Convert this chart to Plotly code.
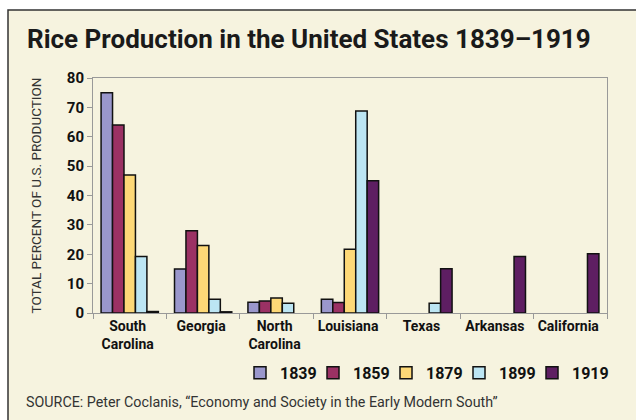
import plotly.graph_objects as go

states = ["South<br>Carolina", "Georgia", "North<br>Carolina", "Louisiana", "Texas", "Arkansas", "California"]
years = ["1839", "1859", "1879", "1899", "1919"]
v1839 = [75, 15, 3.7, 4.7, None, None, None]
v1859 = [64, 28, 4.1, 3.6, None, None, None]
v1879 = [47, 23, 5.1, 21.7, None, None, None]
v1899 = [19.2, 4.7, 3.3, 68.8, 3.3, None, None]
v1919 = [0.5, 0.4, None, 45, 15.1, 19.2, 20.2]
series = [v1839, v1859, v1879, v1899, v1919]
colors = ["#9a97cc", "#9b3164", "#fdd877", "#bce5f3", "#5e1e62"]

FONT = "Roboto, Open Sans, sans-serif"

fig = go.Figure()
for i, (y, vals, c) in enumerate(zip(years, series, colors)):
    fig.add_trace(go.Bar(
        x=states, y=vals, name=y,
        marker=dict(color=c, line=dict(color="#111111", width=1.5)),
        legendwidth=28 if i < len(years) - 1 else 45,
    ))

fig.update_layout(
    width=636, height=420,
    margin=dict(l=93, r=29, t=78, b=107),
    paper_bgcolor="#ffffff",
    plot_bgcolor="#cccaa5",
    barmode="group", bargap=0.22, bargroupgap=0,
    showlegend=True,
    legend=dict(
        orientation="h", x=0.286, xanchor="left", y=-0.255, yanchor="middle",
        font=dict(family=FONT, size=16, color="#111111", weight="bold"),
        bgcolor="rgba(0,0,0,0)", itemwidth=30, traceorder="normal",
    ),
    shapes=[dict(
        type="rect", xref="paper", yref="paper",
        x0=(8 - 93) / 514, x1=1.2, y0=-1.0, y1=(313 - 10) / 235,
        fillcolor="#f6f3df", line=dict(color="#333333", width=1.5), layer="below",
    )],
    title=dict(
        text="<b>Rice Production in the United States 1839–1919</b>",
        x=27 / 636, xanchor="left", y=1 - 39 / 420, yanchor="middle",
        font=dict(family=FONT, size=26, color="#1a1a1a"),
    ),
    annotations=[
        dict(text="SOURCE: Peter Coclanis, “Economy and Society in the Early Modern South”",
             xref="paper", yref="paper", x=(24 - 93) / 514, y=-(402 - 313) / 235,
             xanchor="left", yanchor="middle", showarrow=False,
             font=dict(family=FONT, size=14.3, color="#333333")),
    ],
    font=dict(family=FONT),
)

fig.update_xaxes(
    type="category", tickson="boundaries", ticks="outside", ticklen=5,
    tickcolor="#999999", showline=True, linecolor="#999999", mirror=True,
    tickfont=dict(family=FONT, size=14, color="#111111", weight="bold"),
    tickangle=0, ticklabelshift=-2, showgrid=False,
)
fig.update_yaxes(
    range=[0, 80], dtick=10, ticks="outside", ticklen=5, tickcolor="#999999",
    showline=True, linecolor="#999999", mirror=True, showgrid=False, zeroline=False,
    tickfont=dict(family=FONT, size=15, color="#111111", weight="bold"),
    title=dict(text="TOTAL PERCENT OF U.S. PRODUCTION", standoff=22,
               font=dict(family=FONT, size=13.5, color="#333333")),
)

fig.write_html("out.html", config={"displayModeBar": False},
               post_script="document.body.style.margin='0';")
